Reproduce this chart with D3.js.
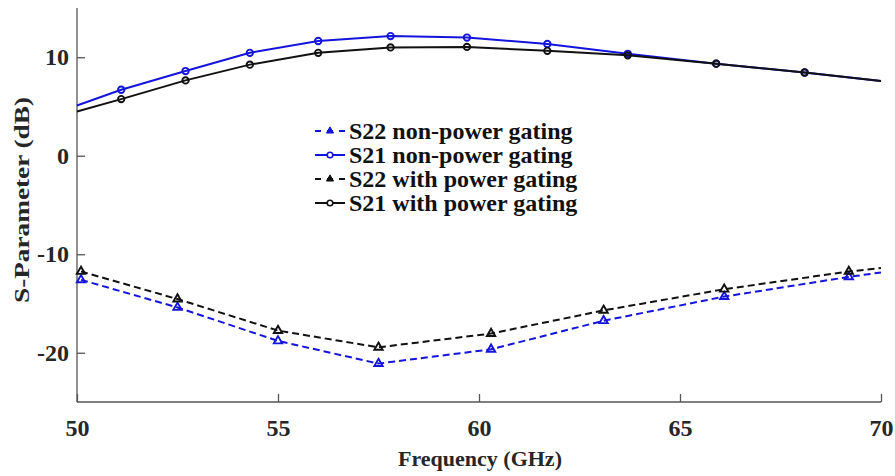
<!DOCTYPE html>
<html>
<head>
<meta charset="utf-8">
<script src="https://cdn.jsdelivr.net/npm/d3@7"></script>
<style>
  html, body { margin: 0; padding: 0; background: #fff; }
  svg { display: block; }
  text { font-family: "Liberation Serif", "Times New Roman", serif; font-weight: bold; }
</style>
</head>
<body>
<svg id="chart" width="895" height="476"></svg>
<script>
// ---- data ----
const s21Freq   = [50, 51.1, 52.7, 54.3, 56.0, 57.8, 59.7, 61.7, 63.7, 65.9, 68.1, 70];
const s21NonPG  = [5.1, 6.7, 8.6, 10.45, 11.65, 12.15, 12.0, 11.35, 10.35, 9.35, 8.45, 7.6];
const s21PG     = [4.5, 5.75, 7.65, 9.25, 10.45, 11.0, 11.05, 10.65, 10.2, 9.35, 8.45, 7.6];
const s21Markers = [1, 2, 3, 4, 5, 6, 7, 8, 9, 10];

const s22Freq   = [50.1, 52.5, 55.0, 57.5, 60.3, 63.1, 66.1, 69.2, 70];
const s22NonPG  = [-12.6, -15.4, -18.8, -21.1, -19.65, -16.75, -14.3, -12.3, -11.85];
const s22PG     = [-11.75, -14.55, -17.75, -19.45, -18.05, -15.7, -13.55, -11.75, -11.4];
const s22Markers = [0, 1, 2, 3, 4, 5, 6, 7];

const xTicks = [50, 55, 60, 65, 70];
const yTicks = [-20, -10, 0, 10];
const legendLabels = ["S22 non-power gating", "S21 non-power gating", "S22 with power gating", "S21 with power gating"];

// ---- layout ----
const svg = d3.select("#chart");
const mLeft = 77, mRight = 881, mTop = 8, mBottom = 402;
const x = d3.scaleLinear().domain([50, 70]).range([mLeft, mRight]);
const y = d3.scaleLinear().domain([-25, 15]).range([mBottom, mTop]);

const BLUE = "#1414dc", BLACK = "#111";
const axisColor = "#555";

// axes
const xAxis = svg.append("g").attr("transform", `translate(0,${mBottom})`)
  .call(d3.axisBottom(x).tickValues(xTicks).tickSizeInner(-8).tickSizeOuter(0).tickPadding(17).tickFormat(d => String(d)));
const yAxis = svg.append("g").attr("transform", `translate(${mLeft},0)`)
  .call(d3.axisLeft(y).tickValues(yTicks).tickSizeInner(-8).tickSizeOuter(0).tickPadding(8).tickFormat(d => String(d)));
[xAxis, yAxis].forEach(g => {
  g.select(".domain").attr("stroke", axisColor).attr("stroke-width", 1.3);
  g.selectAll(".tick line").attr("stroke", axisColor).attr("stroke-width", 1.3);
  g.selectAll(".tick text").attr("fill", "#262626").style("font-size", "24px")
    .style("font-family", "'Liberation Serif', serif").style("font-weight", "bold");
});
yAxis.select(".domain").attr("d", `M0,${mTop}V${mBottom}`);
xAxis.select(".domain").attr("d", `M${mLeft},0H${mRight}`);

// axis labels
svg.append("text").attr("x", 480).attr("y", 466)
  .attr("text-anchor", "middle").attr("fill", "#262626").style("font-size", "22px")
  .text("Frequency (GHz)");
svg.append("text").attr("transform", `translate(29,200) rotate(-90)`)
  .attr("text-anchor", "middle").attr("fill", "#262626").style("font-size", "22px")
  .attr("textLength", 206).attr("lengthAdjust", "spacingAndGlyphs")
  .text("S-Parameter (dB)");

const line = d3.line().x(d => x(d[0])).y(d => y(d[1]));
const tri = d3.symbol().type(d3.symbolTriangle).size(30);

function drawSeries(freq, vals, markers, color, dashed, shape) {
  const pts = freq.map((f, i) => [f, vals[i]]);
  svg.append("path").datum(pts).attr("d", line)
    .attr("fill", "none").attr("stroke", color).attr("stroke-width", 2)
    .attr("stroke-dasharray", dashed ? "7,4" : null);
  const mp = markers.map(i => pts[i]);
  if (shape === "circle") {
    svg.append("g").selectAll("circle").data(mp).join("circle")
      .attr("cx", d => x(d[0])).attr("cy", d => y(d[1])).attr("r", 3.2)
      .attr("fill", "none").attr("stroke", color).attr("stroke-width", 1.9);
  } else {
    svg.append("g").selectAll("path").data(mp).join("path")
      .attr("d", tri).attr("transform", d => `translate(${x(d[0])},${y(d[1])})`)
      .attr("fill", "none").attr("stroke", color).attr("stroke-width", 1.9);
  }
}

drawSeries(s22Freq, s22NonPG, s22Markers, BLUE, true, "tri");
drawSeries(s21Freq, s21NonPG, s21Markers, BLUE, false, "circle");
drawSeries(s22Freq, s22PG, s22Markers, BLACK, true, "tri");
drawSeries(s21Freq, s21PG, s21Markers, BLACK, false, "circle");

// legend
const legStyles = [
  {color: BLUE, dashed: true, shape: "tri"},
  {color: BLUE, dashed: false, shape: "circle"},
  {color: BLACK, dashed: true, shape: "tri"},
  {color: BLACK, dashed: false, shape: "circle"}
];
const lg = svg.append("g");
legendLabels.forEach((lab, i) => {
  const cy = 131 + i * 24;
  const st = legStyles[i];
  lg.append("line").attr("x1", 315).attr("x2", 345).attr("y1", cy).attr("y2", cy)
    .attr("stroke", st.color).attr("stroke-width", 2)
    .attr("stroke-dasharray", st.dashed ? "6,6" : null);
  if (st.shape === "circle") {
    lg.append("circle").attr("cx", 330).attr("cy", cy).attr("r", 2.8)
      .attr("fill", "#fff").attr("stroke", st.color).attr("stroke-width", 1.6);
  } else {
    lg.append("path").attr("d", d3.symbol().type(d3.symbolTriangle).size(22))
      .attr("transform", `translate(330,${cy})`).attr("fill", st.color).attr("stroke", st.color).attr("stroke-width", 1);
  }
  lg.append("text").attr("x", 349).attr("y", cy + 8).attr("fill", "#111")
    .style("font-size", "24px").text(lab);
});
</script>
</body>
</html>
